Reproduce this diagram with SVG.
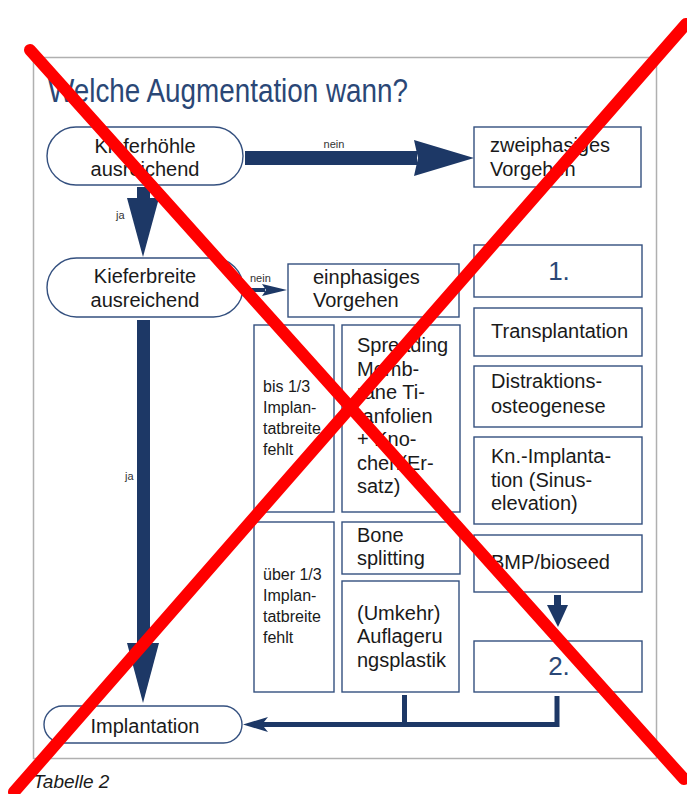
<svg xmlns="http://www.w3.org/2000/svg" width="687" height="794" viewBox="0 0 687 794">
<style>
  .frame{fill:none;stroke:#b0b0b0;stroke-width:1.5}
  .box{fill:#fff;stroke:#34507f;stroke-width:1.4}
  .t{font-family:"Liberation Sans",Arial,sans-serif;font-size:20px;fill:#1a1a1a}
  .ts{font-family:"Liberation Sans",Arial,sans-serif;font-size:16px;fill:#1a1a1a}
  .lbl{font-family:"Liberation Sans",Arial,sans-serif;font-size:11px;fill:#333}
  .num{font-family:"Liberation Sans",Arial,sans-serif;font-size:26px;fill:#2a4776}
  .title{font-family:"Liberation Sans",Arial,sans-serif;font-size:33px;fill:#2a4776}
  .cap{font-family:"Liberation Sans",Arial,sans-serif;font-size:19px;font-style:italic;fill:#1a1a1a}
  .arr{fill:#1d3866}
  .con{fill:none;stroke:#1d3866;stroke-width:5}
  .x{stroke:#ff0000;stroke-width:12;stroke-linecap:round}
</style>
<rect class="frame" x="33.5" y="57.5" width="623" height="701"/>
<text class="title" x="48" y="102" textLength="360" lengthAdjust="spacingAndGlyphs">Welche Augmentation wann?</text>

<g id="connectors">
  <rect class="arr" x="245" y="151" width="172" height="14"/>
  <polygon class="arr" points="414,140 474,158 414,176 418,158"/>
  <text class="lbl" x="334" y="148" text-anchor="middle">nein</text>
  <rect class="arr" x="137" y="187" width="13" height="14"/>
  <polygon class="arr" points="127,198 159,198 143,257"/>
  <text class="lbl" x="116" y="219">ja</text>
  <rect class="arr" x="243" y="288" width="22" height="4"/>
  <polygon class="arr" points="262,284 287,290 262,296 266,290"/>
  <text class="lbl" x="250" y="282">nein</text>
  <rect class="arr" x="137" y="320" width="13" height="325"/>
  <polygon class="arr" points="127,643 159,643 143,703"/>
  <text class="lbl" x="125" y="480">ja</text>
  <rect class="arr" x="554" y="595" width="7" height="12"/>
  <polygon class="arr" points="547,605 568,605 558,627"/>
  <path class="con" d="M557 696 V724.5 H262 M404.5 695 V724.5"/>
  <polygon class="arr" points="243,724.5 268,717 262,724.5 268,732"/>
</g>

<g id="n_kieferhoehle">
  <rect class="box" x="47" y="127" width="196" height="58" rx="29"/>
  <text class="t" x="145" y="153" text-anchor="middle">Kieferhöhle</text>
  <text class="t" x="145" y="176" text-anchor="middle">ausreichend</text>
</g>
<g id="n_zweiphasig">
  <rect class="box" x="474" y="127" width="167" height="60"/>
  <text class="t" x="490" y="152">zweiphasiges</text>
  <text class="t" x="490" y="176">Vorgehen</text>
</g>
<g id="n_kieferbreite">
  <rect class="box" x="47" y="258" width="196" height="59" rx="29.5"/>
  <text class="t" x="145" y="283" text-anchor="middle">Kieferbreite</text>
  <text class="t" x="145" y="307" text-anchor="middle">ausreichend</text>
</g>
<g id="n_einphasig">
  <rect class="box" x="288" y="264" width="171" height="53"/>
  <text class="t" x="313" y="284">einphasiges</text>
  <text class="t" x="313" y="307">Vorgehen</text>
</g>
<g id="n_bis13">
  <rect class="box" x="254" y="325" width="80" height="187"/>
  <text class="ts" x="263" y="392">bis 1/3</text>
  <text class="ts" x="263" y="413">Implan-</text>
  <text class="ts" x="263" y="434">tatbreite</text>
  <text class="ts" x="263" y="455">fehlt</text>
</g>
<g id="n_spreading">
  <rect class="box" x="342" y="325" width="118" height="187"/>
  <text class="t" x="357" y="352">Spreading</text>
  <text class="t" x="357" y="375.5">Memb-</text>
  <text class="t" x="357" y="399">rane Ti-</text>
  <text class="t" x="357" y="422.5">tanfolien</text>
  <text class="t" x="357" y="446">+ Kno-</text>
  <text class="t" x="357" y="469.5">chen(Er-</text>
  <text class="t" x="357" y="493">satz)</text>
</g>
<g id="n_ueber13">
  <rect class="box" x="254" y="522" width="80" height="170"/>
  <text class="ts" x="263" y="580">über 1/3</text>
  <text class="ts" x="263" y="601">Implan-</text>
  <text class="ts" x="263" y="622">tatbreite</text>
  <text class="ts" x="263" y="643">fehlt</text>
</g>
<g id="n_bone">
  <rect class="box" x="342" y="522" width="118" height="52"/>
  <text class="t" x="357" y="542">Bone</text>
  <text class="t" x="357" y="565">splitting</text>
</g>
<g id="n_umkehr">
  <rect class="box" x="342" y="581" width="117" height="111"/>
  <text class="t" x="357" y="620">(Umkehr)</text>
  <text class="t" x="357" y="643">Auflageru</text>
  <text class="t" x="357" y="667">ngsplastik</text>
</g>
<g id="n_1">
  <rect class="box" x="474" y="245" width="168" height="52"/>
  <text class="num" x="559" y="280" text-anchor="middle">1.</text>
</g>
<g id="n_transplantation">
  <rect class="box" x="474" y="308" width="168" height="48"/>
  <text class="t" x="491" y="338">Transplantation</text>
</g>
<g id="n_distraktion">
  <rect class="box" x="474" y="366" width="168" height="61"/>
  <text class="t" x="491" y="388">Distraktions-</text>
  <text class="t" x="491" y="413">osteogenese</text>
</g>
<g id="n_knimpl">
  <rect class="box" x="474" y="437" width="168" height="87"/>
  <text class="t" x="491" y="463">Kn.-Implanta-</text>
  <text class="t" x="491" y="487">tion (Sinus-</text>
  <text class="t" x="491" y="510">elevation)</text>
</g>
<g id="n_bmp">
  <rect class="box" x="474" y="535" width="168" height="57"/>
  <text class="t" x="491" y="569">BMP/bioseed</text>
</g>
<g id="n_2">
  <rect class="box" x="474" y="641" width="168" height="51"/>
  <text class="num" x="559" y="675" text-anchor="middle">2.</text>
</g>
<g id="n_implantation">
  <rect class="box" x="44" y="706" width="198" height="37" rx="18.5"/>
  <text class="t" x="145" y="733" text-anchor="middle">Implantation</text>
</g>
<text class="cap" x="33" y="788">Tabelle 2</text>

<g id="cross">
  <line class="x" x1="30" y1="50" x2="684" y2="779"/>
  <line class="x" x1="686" y1="24" x2="14" y2="792"/>
</g>
</svg>
